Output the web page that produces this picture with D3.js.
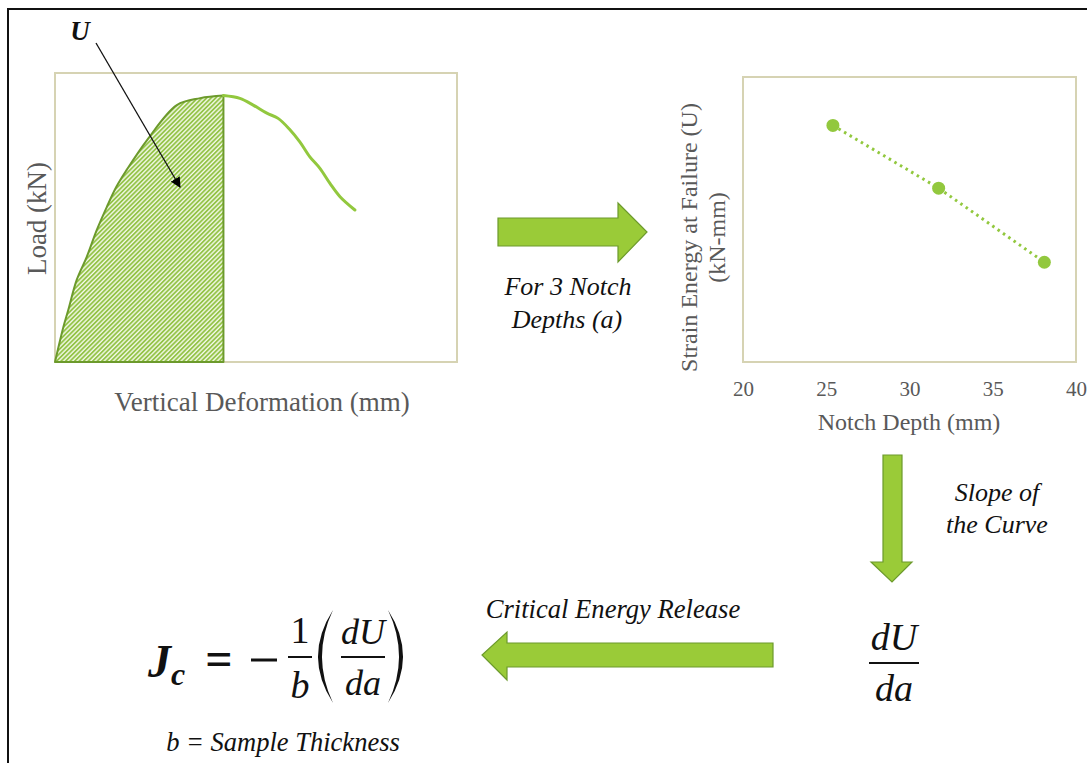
<!DOCTYPE html>
<html>
<head>
<meta charset="utf-8">
<script src="https://cdn.jsdelivr.net/npm/d3@7"></script>
<style>
  body { margin: 0; background: #fff; }
  svg { display: block; }
  text { font-family: "Liberation Serif", "Times New Roman", serif; }
</style>
</head>
<body>
<svg id="svg" width="1087" height="763"></svg>
<script>
(function() {
  'use strict';

  // load-deformation curve (arbitrary units, no ticks on the original)
  var deformation = [0, 0.21, 0.33, 0.54, 0.79, 1.04, 1.29, 1.53, 1.78, 2.29, 3.03, 3.61, 4.19,
                     4.60, 4.93, 5.27, 5.55, 5.85, 6.09, 6.34, 6.59, 6.84, 7.09, 7.46];
  var load = [0, 1.22, 1.80, 2.84, 3.64, 4.57, 5.37, 6.07, 6.64, 7.68, 8.89, 9.13, 9.22,
              9.12, 8.89, 8.61, 8.43, 8.03, 7.62, 7.10, 6.70, 6.18, 5.72, 5.26];
  var failureIndex = 12; // peak load, end of shaded U

  // strain energy vs notch depth
  var notchDepth = [25.4, 31.75, 38.1];
  var strainEnergy = [83, 61, 35];
  var depthTicks = [20, 25, 30, 35, 40];

  var green = "#92c83e";
  var darkGreen = "#6c9a2c";
  var boxColor = "#d6d3b3";
  var grey = "#595959";
  var serif = "Liberation Serif, Times New Roman, serif";

  var svg = d3.select("#svg");

  // outer frame
  svg.append("rect")
    .attr("x", 8).attr("y", 9)
    .attr("width", 1200).attr("height", 900)
    .attr("fill", "none")
    .attr("stroke", "#111")
    .attr("stroke-width", 2);

  var defs = svg.append("defs");

  var hatch = defs.append("pattern")
    .attr("id", "hatch")
    .attr("patternUnits", "userSpaceOnUse")
    .attr("width", 3.2).attr("height", 3.2)
    .attr("patternTransform", "rotate(45)");
  hatch.append("rect").attr("width", 3.2).attr("height", 3.2).attr("fill", "#f4f9ea");
  hatch.append("line")
    .attr("x1", 1).attr("y1", 0).attr("x2", 1).attr("y2", 3.2)
    .attr("stroke", "#8cbf3a").attr("stroke-width", 1.7);

  defs.append("marker")
    .attr("id", "head")
    .attr("viewBox", "0 0 10 10")
    .attr("refX", 9).attr("refY", 5)
    .attr("markerWidth", 8).attr("markerHeight", 8)
    .attr("markerUnits", "strokeWidth")
    .attr("orient", "auto")
    .append("path")
    .attr("d", "M0,0L10,5L0,10z")
    .attr("fill", "#000");

  // ---------- left chart ----------
  var x1 = d3.scaleLinear().domain([0, 10]).range([55, 457]);
  var y1 = d3.scaleLinear().domain([0, 10]).range([362, 73]);

  var left = svg.append("g");

  left.append("rect")
    .attr("x", x1(0)).attr("y", y1(10))
    .attr("width", x1(10) - x1(0)).attr("height", y1(0) - y1(10))
    .attr("fill", "none")
    .attr("stroke", boxColor)
    .attr("stroke-width", 2);

  var pts = deformation.map(function(d, i) { return [d, load[i]]; });

  var area = d3.area()
    .curve(d3.curveCatmullRom.alpha(0.5))
    .x(function(d) { return x1(d[0]); })
    .y0(y1(0))
    .y1(function(d) { return y1(d[1]); });

  left.append("path")
    .attr("d", area(pts.slice(0, failureIndex + 1)))
    .attr("fill", "url(#hatch)")
    .attr("stroke", darkGreen)
    .attr("stroke-width", 2)
    .attr("stroke-linejoin", "round");

  var curve = d3.line()
    .curve(d3.curveCatmullRom.alpha(0.5))
    .x(function(d) { return x1(d[0]); })
    .y(function(d) { return y1(d[1]); });

  left.append("path")
    .attr("d", curve(pts.slice(failureIndex)))
    .attr("fill", "none")
    .attr("stroke", green)
    .attr("stroke-width", 3)
    .attr("stroke-linecap", "round");

  left.append("text")
    .attr("x", 262).attr("y", 411)
    .attr("text-anchor", "middle")
    .attr("font-size", 27)
    .attr("fill", grey)
    .text("Vertical Deformation (mm)");

  left.append("text")
    .attr("transform", "translate(46," + (y1(5) + 1) + ") rotate(-90)")
    .attr("text-anchor", "middle")
    .attr("font-size", 27)
    .attr("fill", grey)
    .text("Load (kN)");

  // U label and pointer
  svg.append("text")
    .attr("x", 80).attr("y", 40)
    .attr("text-anchor", "middle")
    .attr("font-size", 27)
    .attr("font-weight", "bold")
    .attr("font-style", "italic")
    .attr("fill", "#111")
    .text("U");

  svg.append("line")
    .attr("x1", 96).attr("y1", 43)
    .attr("x2", 180).attr("y2", 187)
    .attr("stroke", "#111")
    .attr("stroke-width", 1.3)
    .attr("marker-end", "url(#head)");

  // ---------- right chart ----------
  var x2 = d3.scaleLinear().domain([20, 40]).range([743, 1076]);
  var y2 = d3.scaleLinear().domain([0, 100]).range([362, 77]);

  var right = svg.append("g");

  right.append("rect")
    .attr("x", x2(20)).attr("y", y2(100))
    .attr("width", x2(40) - x2(20)).attr("height", y2(0) - y2(100))
    .attr("fill", "none")
    .attr("stroke", boxColor)
    .attr("stroke-width", 2);

  var xAxis = right.append("g")
    .attr("transform", "translate(0," + y2(0) + ")")
    .call(d3.axisBottom(x2).tickValues(depthTicks).tickSize(0).tickPadding(19));
  xAxis.select(".domain").remove();
  xAxis.selectAll("text")
    .attr("font-family", serif)
    .attr("font-size", 21)
    .attr("fill", grey);

  var pairs = notchDepth.map(function(d, i) { return [d, strainEnergy[i]]; });

  right.append("path")
    .attr("d", d3.line()
      .x(function(d) { return x2(d[0]); })
      .y(function(d) { return y2(d[1]); })(pairs))
    .attr("fill", "none")
    .attr("stroke", green)
    .attr("stroke-width", 3)
    .attr("stroke-dasharray", "2.5,4");

  right.selectAll("circle")
    .data(pairs)
    .enter().append("circle")
    .attr("cx", function(d) { return x2(d[0]); })
    .attr("cy", function(d) { return y2(d[1]); })
    .attr("r", 6.5)
    .attr("fill", green);

  right.append("text")
    .attr("x", 909).attr("y", 430)
    .attr("text-anchor", "middle")
    .attr("font-size", 24)
    .attr("fill", grey)
    .text("Notch Depth (mm)");

  var yTitle = right.append("text")
    .attr("transform", "translate(689," + (y2(50) + 18) + ") rotate(-90)")
    .attr("text-anchor", "middle")
    .attr("font-size", 24)
    .attr("fill", grey);
  yTitle.append("tspan").attr("x", 0).attr("dy", "0.35em").text("Strain Energy at Failure (U)");
  yTitle.append("tspan").attr("x", 0).attr("dy", "1.15em").text("(kN-mm)");

  // ---------- block arrows ----------
  function blockArrow(points) {
    svg.append("polygon")
      .attr("points", points.map(function(p) { return p.join(","); }).join(" "))
      .attr("fill", "#9acb38")
      .attr("stroke", darkGreen)
      .attr("stroke-width", 1.2)
      .attr("stroke-linejoin", "miter");
  }

  blockArrow([[498, 218], [618, 218], [618, 203], [647, 232], [618, 262], [618, 246], [498, 246]]);
  blockArrow([[883, 455], [902, 455], [902, 562], [912, 562], [892, 582], [871, 562], [883, 562]]);
  blockArrow([[773, 643], [507, 643], [507, 632], [482, 655], [507, 680], [507, 667], [773, 667]]);

  function note(x, y, s, size) {
    svg.append("text")
      .attr("x", x).attr("y", y)
      .attr("text-anchor", "middle")
      .attr("font-family", serif)
      .attr("font-size", size || 26)
      .attr("font-style", "italic")
      .attr("fill", "#111")
      .text(s);
  }

  note(568, 295, "For 3 Notch");
  note(567, 328, "Depths (a)");
  note(997, 501, "Slope of");
  note(997, 533, "the Curve");
  note(613, 618, "Critical Energy Release", 26.6);
  note(283, 751, "b = Sample Thickness", 26.5);

  // ---------- dU/da ----------
  function fraction(cx, lineY, top, bottom, size, w) {
    svg.append("text")
      .attr("x", cx).attr("y", lineY - 13)
      .attr("text-anchor", "middle")
      .attr("font-size", size)
      .attr("font-style", "italic")
      .attr("fill", "#111")
      .text(top);
    svg.append("line")
      .attr("x1", cx - w / 2).attr("x2", cx + w / 2)
      .attr("y1", lineY).attr("y2", lineY)
      .attr("stroke", "#111").attr("stroke-width", 2);
    svg.append("text")
      .attr("x", cx).attr("y", lineY + 38)
      .attr("text-anchor", "middle")
      .attr("font-size", size)
      .attr("font-style", "italic")
      .attr("fill", "#111")
      .text(bottom);
  }

  fraction(894, 663, "dU", "da", 38, 50);

  // ---------- J_c formula ----------
  var jc = svg.append("text")
    .attr("x", 148).attr("y", 677)
    .attr("font-size", 46)
    .attr("font-weight", "bold")
    .attr("font-style", "italic")
    .attr("fill", "#111");
  jc.append("tspan").text("J");
  jc.append("tspan").attr("font-size", 32).attr("dy", 8).text("c");

  svg.append("text")
    .attr("x", 219).attr("y", 675)
    .attr("text-anchor", "middle")
    .attr("font-size", 48)
    .attr("font-weight", "bold")
    .attr("fill", "#111")
    .text("=");
  svg.append("line")
    .attr("x1", 251).attr("x2", 277)
    .attr("y1", 660).attr("y2", 660)
    .attr("stroke", "#111").attr("stroke-width", 3);

  svg.append("text")
    .attr("x", 300).attr("y", 643)
    .attr("text-anchor", "middle")
    .attr("font-size", 38)
    .attr("fill", "#111")
    .text("1");
  svg.append("line")
    .attr("x1", 288).attr("x2", 312)
    .attr("y1", 657).attr("y2", 657)
    .attr("stroke", "#111").attr("stroke-width", 2);
  svg.append("text")
    .attr("x", 300).attr("y", 698)
    .attr("text-anchor", "middle")
    .attr("font-size", 38)
    .attr("font-style", "italic")
    .attr("fill", "#111")
    .text("b");

  // parentheses as crescents
  function paren(xTop, xMid, yTop, yBot, bulge) {
    var ym = (yTop + yBot) / 2;
    var p = d3.path();
    p.moveTo(xTop, yTop);
    p.quadraticCurveTo(xMid, ym, xTop, yBot);
    p.quadraticCurveTo(xMid + bulge, ym, xTop, yTop);
    svg.append("path").attr("d", p.toString()).attr("fill", "#111");
  }
  paren(333, 303, 610, 703, 8);
  paren(388, 418, 610, 703, -8);

  fraction(363, 657, "dU", "da", 36, 44);
})();
</script>
</body>
</html>
